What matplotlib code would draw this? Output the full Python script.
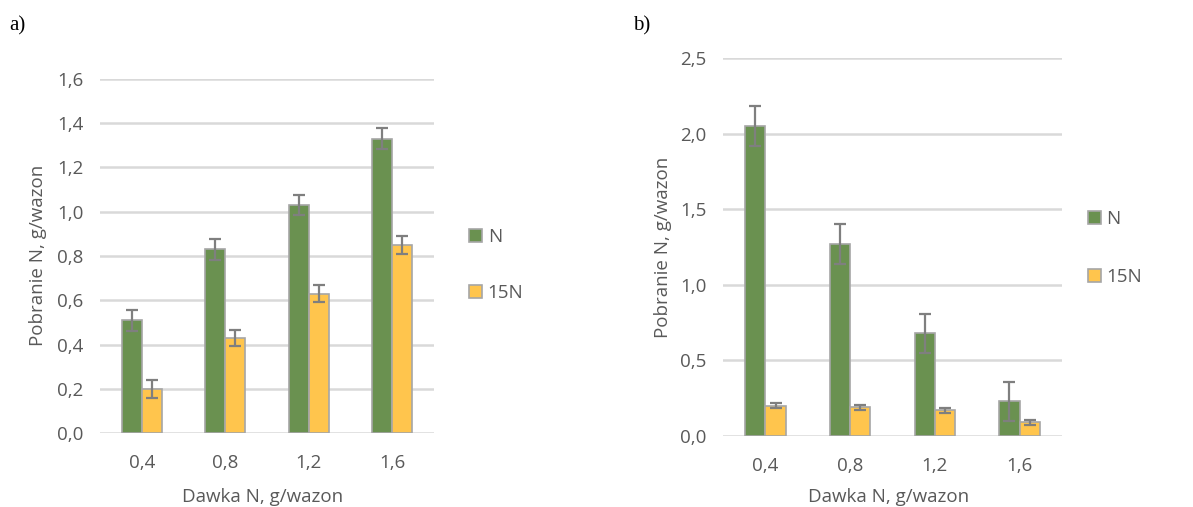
import numpy as np
import matplotlib
matplotlib.use("Agg")
import matplotlib.pyplot as plt

# --- Data ---
doses = ["0,4", "0,8", "1,2", "1,6"]

a_N = [0.51, 0.83, 1.03, 1.33]
a_N_err = [0.048, 0.047, 0.046, 0.047]
a_15N = [0.20, 0.43, 0.63, 0.85]
a_15N_err = [0.04, 0.036, 0.039, 0.039]

b_N = [2.05, 1.27, 0.68, 0.23]
b_N_err = [0.13, 0.13, 0.13, 0.13]
b_15N = [0.20, 0.19, 0.17, 0.09]
b_15N_err = [0.017, 0.015, 0.015, 0.015]

series_labels = ["N", "15N"]

# --- Style ---
plt.rcParams['font.family'] = ['Open Sans', 'DejaVu Sans']
green = '#6a9150'
yellow = '#ffc54d'
edge = '#a6a6a6'
err_col = '#7f7f7f'
txt_col = '#595959'
grid_col = '#d9d9d9'
fs = 13.5

W, H = 1193, 507
fig = plt.figure(figsize=(W / 100, H / 100), dpi=100)


def px_axes(x0, y0, x1, y1):
    return fig.add_axes([x0 / W, (H - y1) / H, (x1 - x0) / W, (y1 - y0) / H])


def draw_panel(ax, n_vals, n_err, f_vals, f_err, ymax, ystep):
    x = np.arange(len(doses))
    w = 0.24
    b1 = ax.bar(x - w / 2, n_vals, w, color=green, edgecolor=edge, linewidth=1.2,
                label=series_labels[0], zorder=2)
    b2 = ax.bar(x + w / 2, f_vals, w, color=yellow, edgecolor=edge, linewidth=1.2,
                label=series_labels[1], zorder=2)
    ax.errorbar(x - w / 2, n_vals, yerr=n_err, fmt='none', ecolor=err_col,
                elinewidth=1.6, capsize=4.3, capthick=1.6, zorder=3)
    ax.errorbar(x + w / 2, f_vals, yerr=f_err, fmt='none', ecolor=err_col,
                elinewidth=1.6, capsize=4.3, capthick=1.6, zorder=3)
    ax.set_xlim(-0.5, len(doses) - 0.5)
    ax.set_ylim(0, ymax)
    ticks = np.arange(0, ymax + ystep / 2, ystep)
    ax.set_yticks(ticks)
    ax.set_yticklabels([f"{t:.1f}".replace('.', ',') for t in ticks])
    ax.set_xticks(x)
    ax.set_xticklabels(doses)
    ax.yaxis.grid(True, color=grid_col, linewidth=1.8, zorder=0)
    ax.set_axisbelow(True)
    for s in ax.spines.values():
        s.set_visible(False)
    ax.tick_params(axis='both', length=0, labelsize=fs, colors=txt_col)
    ax.tick_params(axis='x', pad=15)
    ax.tick_params(axis='y', pad=12)
    ax.set_xlabel("Dawka N, g/wazon", fontsize=fs, color=txt_col, va='center')
    ax.set_ylabel("Pobranie N, g/wazon", fontsize=fs, color=txt_col, va='center')
    return b1, b2


# panel a
ax1 = px_axes(100, 79, 434, 433)
h1 = draw_panel(ax1, a_N, a_N_err, a_15N, a_15N_err, 1.6, 0.2)
ax1.xaxis.set_label_coords(263 / W, 1 - 497 / H, transform=fig.transFigure)
ax1.yaxis.set_label_coords(38 / W, 1 - 255 / H, transform=fig.transFigure)
ax1.legend(h1, series_labels, loc='center left', bbox_to_anchor=(452 / W, 1 - 265 / H),
           bbox_transform=fig.transFigure, frameon=False, fontsize=fs,
           labelcolor=txt_col, handlelength=0.7, handleheight=0.7,
           handletextpad=0.3, labelspacing=2.0)

# panel b
ax2 = px_axes(723, 58, 1062, 436)
h2 = draw_panel(ax2, b_N, b_N_err, b_15N, b_15N_err, 2.5, 0.5)
ax2.xaxis.set_label_coords(889 / W, 1 - 497 / H, transform=fig.transFigure)
ax2.yaxis.set_label_coords(663 / W, 1 - 247 / H, transform=fig.transFigure)
ax2.legend(h2, series_labels, loc='center left', bbox_to_anchor=(1071 / W, 1 - 248 / H),
           bbox_transform=fig.transFigure, frameon=False, fontsize=fs,
           labelcolor=txt_col, handlelength=0.7, handleheight=0.7,
           handletextpad=0.3, labelspacing=2.1)

fig.text(9 / W, 1 - 26 / H, "a)", fontsize=15, family=['Liberation Serif', 'DejaVu Serif'],
         va='center', ha='left')
fig.text(633 / W, 1 - 26 / H, "b)", fontsize=15, family=['Liberation Serif', 'DejaVu Serif'],
         va='center', ha='left')

fig.savefig("out.png", dpi=100)
